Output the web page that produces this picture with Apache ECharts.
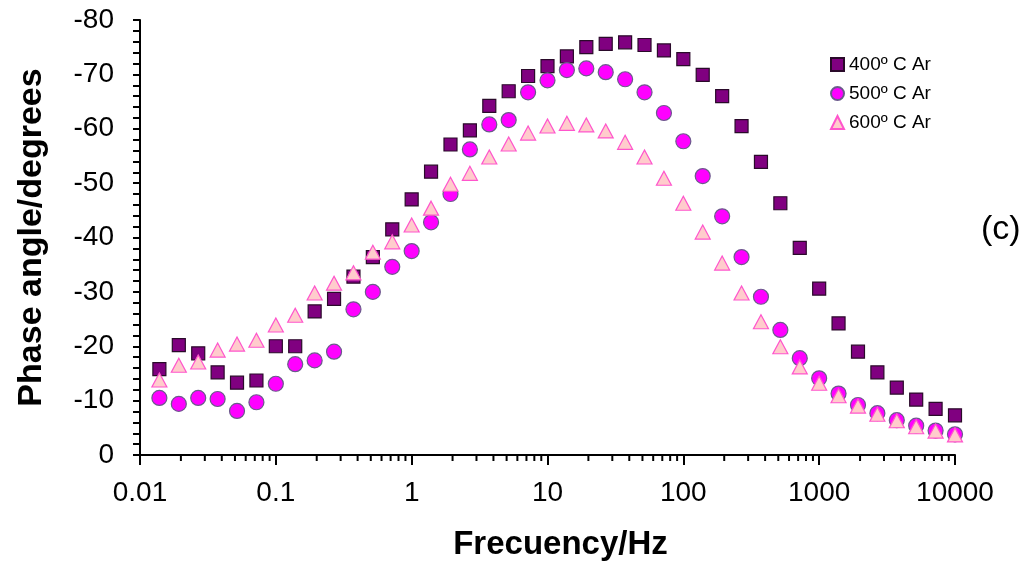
<!DOCTYPE html>
<html>
<head>
<meta charset="utf-8">
<script src="https://cdn.jsdelivr.net/npm/echarts@6/dist/echarts.min.js"></script>
<style>
    html, body { margin: 0; padding: 0; background: #fff; }
    #chart { width: 1030px; height: 570px; }
</style>
</head>
<body>
<div id="chart"></div>
<script>
    // frecuencias (Hz), 7 puntos por decada
    const freq = [
        0.01389, 0.01931, 0.02683, 0.03728, 0.05179, 0.07197, 0.1,
        0.1389, 0.1931, 0.2683, 0.3728, 0.5179, 0.7197, 1,
        1.389, 1.931, 2.683, 3.728, 5.179, 7.197, 10,
        13.89, 19.31, 26.83, 37.28, 51.79, 71.97, 100,
        138.9, 193.1, 268.3, 372.8, 517.9, 719.7, 1000,
        1389, 1931, 2683, 3728, 5179, 7197, 10000
    ];
    const phase400 = [
        -15.8, -20.2, -18.7, -15.2, -13.3, -13.7, -20.0,
        -20.0, -26.4, -28.7, -32.8, -36.4, -41.5, -47.0,
        -52.1, -57.1, -59.7, -64.2, -66.9, -69.7, -71.5,
        -73.3, -75.0, -75.6, -75.9, -75.4, -74.4, -72.8,
        -69.9, -66.0, -60.5, -53.9, -46.3, -38.1, -30.6,
        -24.2, -19.0, -15.2, -12.4, -10.2, -8.5, -7.3
    ];
    const phase500 = [
        -10.5, -9.4, -10.5, -10.3, -8.1, -9.7, -13.1,
        -16.7, -17.4, -19.0, -26.8, -30.0, -34.6, -37.5,
        -42.8, -48.0, -56.2, -60.8, -61.6, -66.7, -68.9,
        -70.8, -71.1, -70.4, -69.1, -66.7, -62.9, -57.7,
        -51.3, -43.9, -36.4, -29.1, -23.0, -17.8, -14.1,
        -11.3, -9.2, -7.7, -6.4, -5.4, -4.5, -3.8
    ];
    const phase600 = [
        -13.8, -16.5, -17.1, -19.3, -20.4, -21.1, -23.9,
        -25.7, -29.8, -31.6, -33.5, -37.3, -39.2, -42.3,
        -45.4, -49.8, -51.8, -54.8, -57.2, -59.2, -60.5,
        -61.0, -60.7, -59.6, -57.5, -54.8, -50.9, -46.3,
        -41.0, -35.3, -29.8, -24.5, -19.9, -16.2, -13.2,
        -10.9, -9.0, -7.5, -6.3, -5.2, -4.4, -3.7
    ];
    const seriesNames = ["400º C Ar", "500º C Ar", "600º C Ar"];
    const xTickLabels = ["0.01", "0.1", "1", "10", "100", "1000", "10000"];

    const font = "Liberation Sans, Arial, sans-serif";

    function pairs(ys) {
        return freq.map((f, i) => [f, ys[i]]);
    }

    // marcas menores del eje log (2..9 en cada decada)
    let minorTicks = [];
    xTickLabels.slice(0, -1).forEach((t) => {
        for (let m = 2; m <= 9; m++) {
            minorTicks.push([m * Number(t), 0]);
        }
    });

    let chart = echarts.init(document.getElementById("chart"), null, {renderer: "canvas"});

    let option = {
        animation: false,
        backgroundColor: "#fff",
        grid: {
            left: 140,
            right: 75,
            top: 20,
            bottom: 115
        },
        legend: {
            orient: "vertical",
            left: 825,
            top: 50,
            itemGap: 10,
            itemWidth: 13,
            itemHeight: 13,
            textStyle: {
                fontFamily: font,
                fontSize: 19,
                color: "#000"
            },
            data: seriesNames
        },
        xAxis: {
            type: "log",
            logBase: 10,
            min: 0.01,
            max: 10000,
            name: "Frecuency/Hz",
            nameLocation: "middle",
            nameGap: 73,
            nameTextStyle: {
                fontFamily: font,
                fontSize: 33,
                fontWeight: "bold",
                color: "#000",
                padding: [0, 0, 0, 26]
            },
            axisLine: {lineStyle: {color: "#000", width: 2}},
            axisTick: {length: 10, lineStyle: {color: "#000", width: 2}},
            minorTick: {show: false},
            splitLine: {show: false},
            axisLabel: {
                fontFamily: font,
                fontSize: 28,
                color: "#000",
                margin: 24,
                formatter: (v) => xTickLabels[Math.round(Math.log10(v)) + 2]
            }
        },
        yAxis: {
            type: "value",
            min: -80,
            max: 0,
            interval: 10,
            inverse: true,
            name: "Phase angle/degrees",
            nameLocation: "middle",
            nameGap: 91,
            nameTextStyle: {
                fontFamily: font,
                fontSize: 34,
                fontWeight: "bold",
                color: "#000"
            },
            axisLine: {lineStyle: {color: "#000", width: 2}},
            axisTick: {length: 7, lineStyle: {color: "#000", width: 2}},
            minorTick: {show: true, splitNumber: 5, length: 7, lineStyle: {color: "#000", width: 2}},
            splitLine: {show: false},
            axisLabel: {
                fontFamily: font,
                fontSize: 28,
                color: "#000",
                margin: 26
            }
        },
        graphic: [{
            type: "text",
            left: 981,
            top: 213,
            style: {
                text: "(c)",
                font: "34px " + font,
                fill: "#000"
            }
        }],
        series: [
            {
                name: "minor",
                type: "custom",
                silent: true,
                clip: false,
                z: 1,
                renderItem: (params, api) => {
                    let p = api.coord([api.value(0), api.value(1)]);
                    return {
                        type: "line",
                        shape: {x1: p[0], y1: p[1], x2: p[0], y2: p[1] + 6},
                        style: {stroke: "#000", lineWidth: 2}
                    };
                },
                data: minorTicks
            },
            {
                name: seriesNames[0],
                type: "scatter",
                symbol: "rect",
                symbolSize: 13,
                z: 3,
                itemStyle: {color: "#800080", borderColor: "#2a0a2a", borderWidth: 1.2, opacity: 1},
                data: pairs(phase400)
            },
            {
                name: seriesNames[1],
                type: "scatter",
                symbol: "circle",
                symbolSize: 15,
                z: 4,
                itemStyle: {color: "#ff00ff", borderColor: "#6b5a8c", borderWidth: 1.2, opacity: 1},
                data: pairs(phase500)
            },
            {
                name: seriesNames[2],
                type: "scatter",
                symbol: "triangle",
                symbolSize: [15, 14],
                z: 5,
                itemStyle: {color: "#ffcccc", borderColor: "#ff55cc", borderWidth: 1.2, opacity: 1},
                data: pairs(phase600)
            }
        ]
    };

    chart.setOption(option);
</script>
</body>
</html>
